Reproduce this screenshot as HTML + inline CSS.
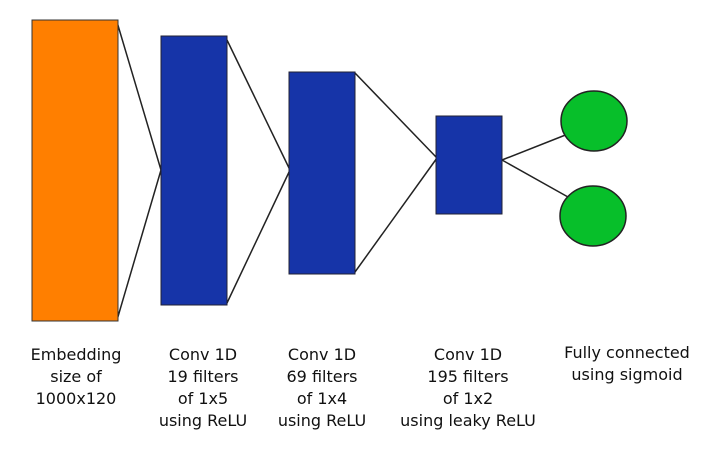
<!DOCTYPE html>
<html><head><meta charset="utf-8"><style>
body{margin:0;width:720px;height:454px;background:#fff;overflow:hidden}
svg{position:absolute;left:0;top:0}
text{font-family:"DejaVu Sans","Liberation Sans",sans-serif;font-size:16px;fill:#111;text-anchor:middle}
</style></head><body>
<svg width="720" height="454" viewBox="0 0 720 454">
<g stroke="#222" stroke-width="1.5" fill="none">
<line x1="117" y1="22" x2="161" y2="170"/><line x1="117" y1="320" x2="161" y2="170"/>
<line x1="227" y1="40" x2="290" y2="170"/><line x1="227" y1="303" x2="290" y2="170"/>
<line x1="355" y1="73" x2="437" y2="158"/><line x1="355" y1="272" x2="437" y2="158"/>
<line x1="502" y1="160" x2="568" y2="134"/><line x1="502" y1="160" x2="568" y2="197"/>
</g>
<rect x="32" y="20" width="86" height="301" fill="#ff7f00" stroke="#333" stroke-width="1"/>
<rect x="161" y="36" width="66" height="269" fill="#1634a8" stroke="#223" stroke-width="1"/>
<rect x="289" y="72" width="66" height="202" fill="#1634a8" stroke="#223" stroke-width="1"/>
<rect x="436" y="116" width="66" height="98" fill="#1634a8" stroke="#223" stroke-width="1"/>
<ellipse cx="594" cy="121" rx="33" ry="30" fill="#07bf2a" stroke="#222" stroke-width="1.5"/>
<ellipse cx="593" cy="216" rx="33" ry="30" fill="#07bf2a" stroke="#222" stroke-width="1.5"/>
<text x="76" y="360">Embedding</text><text x="76" y="382">size of</text><text x="76" y="404">1000x120</text>
<text x="203" y="360">Conv 1D</text><text x="203" y="382">19 filters</text><text x="203" y="404">of 1x5</text><text x="203" y="426">using ReLU</text>
<text x="322" y="360">Conv 1D</text><text x="322" y="382">69 filters</text><text x="322" y="404">of 1x4</text><text x="322" y="426">using ReLU</text>
<text x="468" y="360">Conv 1D</text><text x="468" y="382">195 filters</text><text x="468" y="404">of 1x2</text><text x="468" y="426">using leaky ReLU</text>
<text x="627" y="358">Fully connected</text><text x="627" y="380">using sigmoid</text>
</svg>
</body></html>
